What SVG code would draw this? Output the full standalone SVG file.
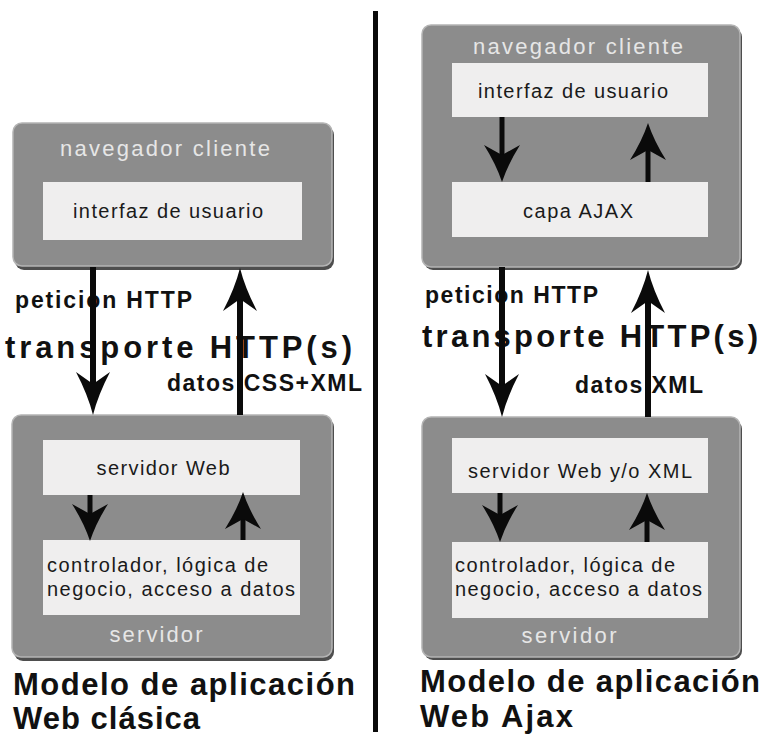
<svg xmlns="http://www.w3.org/2000/svg" width="765" height="736" viewBox="0 0 765 736">
<defs>
<style>
.shadow{fill:#4e4e4e}
.box{fill:#8c8c8c;stroke:#b4b4b4;stroke-width:1.5}
.inner{fill:#efeeee}
.t{font-family:"Liberation Sans",Arial,sans-serif}
.hdr{font-size:22px;fill:#e6e6e6}
.in{font-size:20px;fill:#1a1a1a}
.lbl{font-size:23px;font-weight:bold;fill:#111}
.big{font-size:31px;font-weight:bold;fill:#111}
.ttl{font-size:31px;font-weight:bold;fill:#111}
.ln{stroke:#0a0a0a;stroke-width:5;fill:none}
.sln{stroke:#0a0a0a;stroke-width:6;fill:none}
</style>
<marker id="headL" markerUnits="userSpaceOnUse" orient="auto" markerWidth="44" markerHeight="36" viewBox="0 -18 44 36" refX="28" refY="0">
<path d="M44,0 Q24,-5 1,-17 L13,0 L1,17 Q24,5 44,0 Z" fill="#0a0a0a"/>
</marker>
<marker id="headS" markerUnits="userSpaceOnUse" orient="auto" markerWidth="38" markerHeight="38" viewBox="0 -19 38 38" refX="24" refY="0">
<path d="M38,0 Q20,-6 1,-18 L11,0 L1,18 Q20,6 38,0 Z" fill="#0a0a0a"/>
</marker>
</defs>
<rect width="765" height="736" fill="#ffffff"/>

<line x1="375.5" y1="11" x2="375.5" y2="732" stroke="#0a0a0a" stroke-width="5"/>

<g id="left-client">
<rect class="shadow" x="15" y="126" width="319" height="144" rx="9"/>
<rect class="box" x="13" y="123" width="319" height="143" rx="9"/>
<text class="t hdr" x="165" y="156" text-anchor="middle" textLength="210" lengthAdjust="spacing">navegador cliente</text>
<rect class="inner" x="43" y="182" width="259" height="58"/>
<text class="t in" x="168" y="218" text-anchor="middle" textLength="190" lengthAdjust="spacing">interfaz de usuario</text>
</g>

<g id="left-server">
<rect class="shadow" x="14" y="418" width="320" height="243" rx="9"/>
<rect class="box" x="12" y="415" width="320" height="242" rx="9"/>
<rect class="inner" x="43" y="440" width="257" height="55"/>
<text class="t in" x="163" y="475" text-anchor="middle" textLength="133" lengthAdjust="spacing">servidor Web</text>
<rect class="inner" x="43" y="540" width="257" height="75"/>
<text class="t in" x="47" y="572" textLength="221" lengthAdjust="spacing">controlador, lógica de</text>
<text class="t in" x="47" y="596" textLength="248" lengthAdjust="spacing">negocio, acceso a datos</text>
<text class="t hdr" x="156" y="642" text-anchor="middle" textLength="93" lengthAdjust="spacing">servidor</text>
</g>

<g id="right-client">
<rect class="shadow" x="424" y="28" width="318" height="242" rx="9"/>
<rect class="box" x="422" y="25" width="318" height="242" rx="9"/>
<text class="t hdr" x="578" y="54" text-anchor="middle" textLength="210" lengthAdjust="spacing">navegador cliente</text>
<rect class="inner" x="452" y="63" width="256" height="54"/>
<text class="t in" x="573" y="98" text-anchor="middle" textLength="190" lengthAdjust="spacing">interfaz de usuario</text>
<rect class="inner" x="452" y="182" width="256" height="55"/>
<text class="t in" x="578" y="218" text-anchor="middle" textLength="110" lengthAdjust="spacing">capa AJAX</text>
</g>

<g id="right-server">
<rect class="shadow" x="424" y="420" width="318" height="240" rx="9"/>
<rect class="box" x="422" y="417" width="318" height="240" rx="9"/>
<rect class="inner" x="452" y="438" width="256" height="55"/>
<text class="t in" x="580" y="478" text-anchor="middle" textLength="224" lengthAdjust="spacing">servidor Web y/o XML</text>
<rect class="inner" x="452" y="542" width="256" height="76"/>
<text class="t in" x="455" y="572" textLength="220" lengthAdjust="spacing">controlador, lógica de</text>
<text class="t in" x="455" y="596" textLength="247" lengthAdjust="spacing">negocio, acceso a datos</text>
<text class="t hdr" x="569" y="643" text-anchor="middle" textLength="95" lengthAdjust="spacing">servidor</text>
</g>

<g id="labels">
<text class="t lbl" x="15" y="308" textLength="177" lengthAdjust="spacing">peticion HTTP</text>
<text class="t big" x="5" y="358" textLength="347" lengthAdjust="spacing">transporte HTTP(s)</text>
<text class="t lbl" x="167" y="391" font-size="22" textLength="195" lengthAdjust="spacing">datos CSS+XML</text>
<text class="t ttl" x="13" y="695" textLength="342" lengthAdjust="spacing">Modelo de aplicación</text>
<text class="t ttl" x="13" y="729" textLength="187" lengthAdjust="spacing">Web clásica</text>

<text class="t lbl" x="425" y="303" textLength="173" lengthAdjust="spacing">peticion HTTP</text>
<text class="t big" x="422" y="347" textLength="336" lengthAdjust="spacing">transporte HTTP(s)</text>
<text class="t lbl" x="575" y="393" font-size="22" textLength="128" lengthAdjust="spacing">datos XML</text>
<text class="t ttl" x="420" y="692" textLength="340" lengthAdjust="spacing">Modelo de aplicación</text>
<text class="t ttl" x="420" y="727" textLength="153" lengthAdjust="spacing">Web Ajax</text>
</g>

<g id="connectors">
<line class="sln" x1="93" y1="267" x2="93" y2="399" marker-end="url(#headL)"/>
<line class="sln" x1="240" y1="415" x2="240" y2="284" marker-end="url(#headL)"/>
<line class="sln" x1="502" y1="267" x2="502" y2="401" marker-end="url(#headL)"/>
<line class="sln" x1="648" y1="417" x2="648" y2="286" marker-end="url(#headL)"/>

<line class="ln" x1="90" y1="495" x2="90" y2="527" marker-end="url(#headS)"/>
<line class="ln" x1="243" y1="540" x2="243" y2="506" marker-end="url(#headS)"/>
<line class="ln" x1="502" y1="117" x2="502" y2="168" marker-end="url(#headS)"/>
<line class="ln" x1="648" y1="182" x2="648" y2="137" marker-end="url(#headS)"/>
<line class="ln" x1="500" y1="493" x2="500" y2="528" marker-end="url(#headS)"/>
<line class="ln" x1="647" y1="542" x2="647" y2="507" marker-end="url(#headS)"/>
</g>
</svg>
